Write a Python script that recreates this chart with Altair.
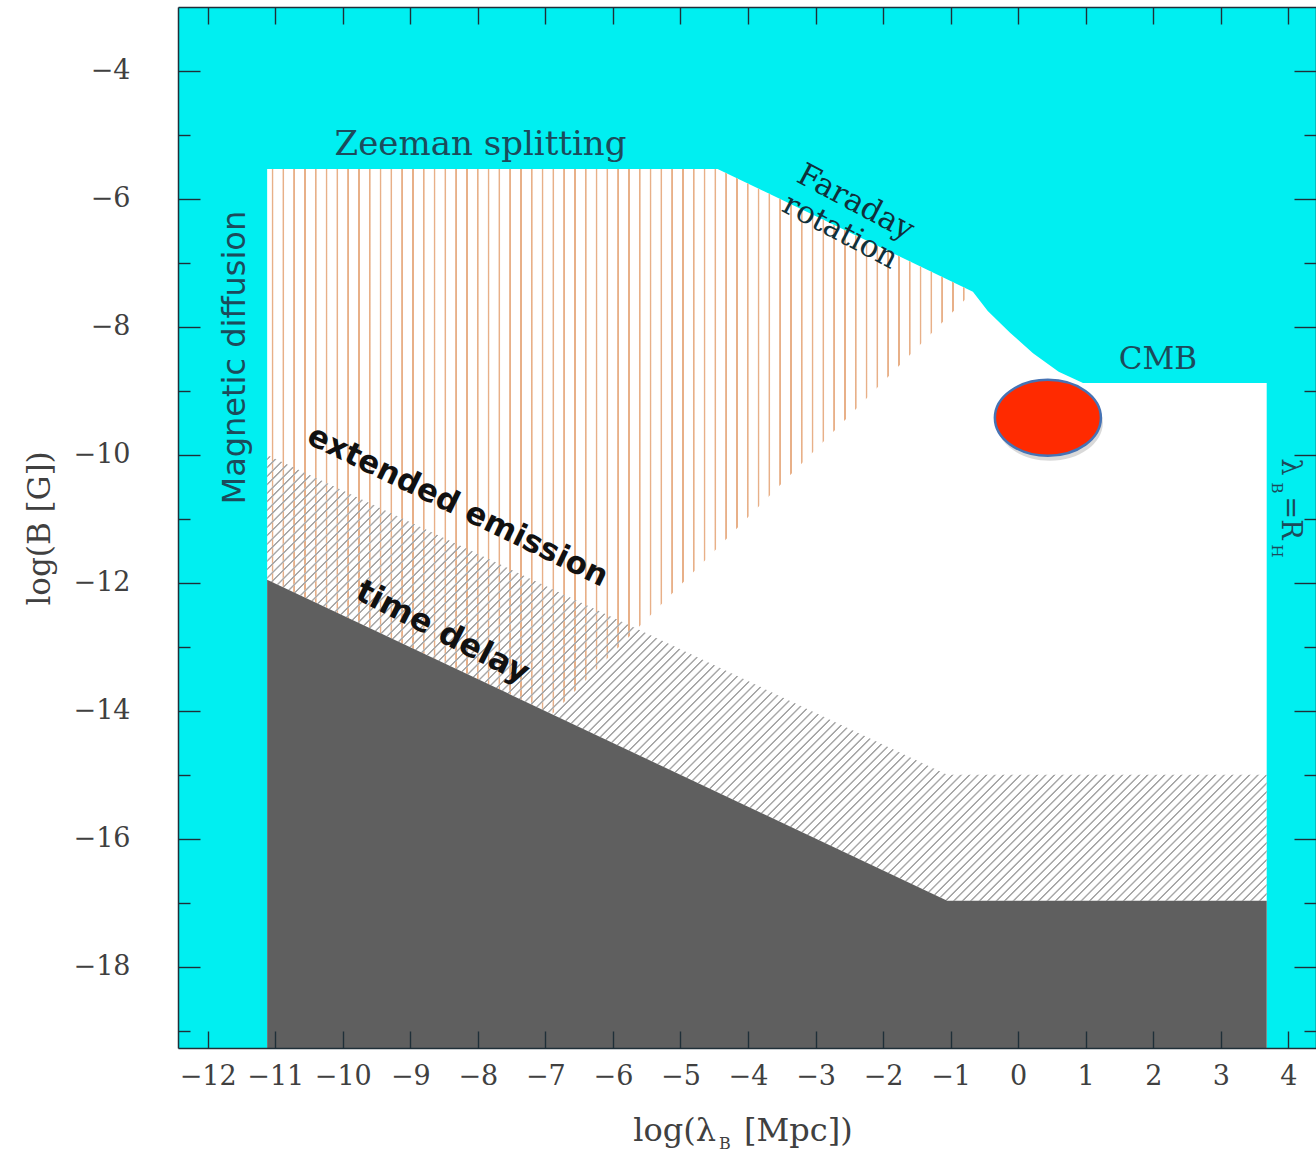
import math
import altair as alt
import pandas as pd

# ---------------- values ----------------
# upper bound of the allowed region (Zeeman splitting / Faraday rotation / CMB)
upper_x = [-11.12, -4.45, -0.67, -0.45, -0.12, 0.22, 0.60, 0.96, 3.68]
upper_y = [-5.53, -5.53, -7.45, -7.75, -8.09, -8.41, -8.70, -8.875, -8.875]
# time-delay lower bound (dark excluded region)
delay_x = [-11.12, -1.05, 3.68]
delay_y = [-11.95, -16.97, -16.97]
# extended-emission band (grey hatching)
ext_x = [-11.12, -1.05, 3.68]
ext_top = [-10.00, -15.00, -15.00]
ext_bot = [-11.95, -16.97, -16.97]
# vertically hatched (orange) region
far_x = [-11.12, -6.90, -4.45, -0.67]
far_top = [-5.53, -5.53, -5.53, -7.45]
far_bot = [-11.95, -14.05, -11.45, -7.45]
# red marker
marker_x = [0.44]
marker_y = [-9.42]
# axes
x_tick_values = list(range(-12, 5))
y_major_values = list(range(-18, -3, 2))
y_minor_values = list(range(-19, -3, 2))
X_DOMAIN = [-12.44, 4.41]
Y_DOMAIN = [-19.27, -3.0]
# texts
label_zeeman = "Zeeman splitting"
label_faraday = ["Faraday", "rotation"]
label_cmb = "CMB"
label_diffusion = "Magnetic diffusion"
label_extended = "extended emission"
label_delay = "time delay"
x_title_parts = ["log(λ", "B", "[Mpc])"]
y_title = "log(B [G])"
rh_parts = ["λ", "B", "=R", "H"]

# ---------------- layout / style ----------------
W, H = 1138, 1041
PAD = {"left": 178, "top": 7, "right": 0, "bottom": 109}
PXX = W / (X_DOMAIN[1] - X_DOMAIN[0])
PXY = H / (Y_DOMAIN[1] - Y_DOMAIN[0])

CYAN = "#00eff1"
DARK = "#5f5f5f"
FRAME = "#1f2f38"
LBL = "#404040"
TEAL = "#1c4b5b"
ORANGE = "#e8b088"
GREY = "#a8a8a8"
CLEAR = "rgba(255,255,255,0)"
SERIF = "DejaVu Serif"
SANS = "DejaVu Sans"


def stripe_stops(color, length, period, width, soft=0.7):
    stops = [{"offset": 0.0, "color": CLEAR}]
    c = period / 2.0
    while c + width / 2 + soft < length:
        pts = [
            ((c - width / 2 - soft) / length, CLEAR),
            ((c - width / 2) / length, color),
            ((c + width / 2) / length, color),
            ((c + width / 2 + soft) / length, CLEAR),
        ]
        for off, col in pts:
            stops.append({"offset": round(off, 6), "color": col})
        c += period
    stops.append({"offset": 1.0, "color": CLEAR})
    return stops


# orange vertical hatching
w_far = (max(far_x) - min(far_x)) * PXX
orange_fill = {"gradient": "linear", "x1": 0, "y1": 0, "x2": 1, "y2": 0,
               "stops": stripe_stops(ORANGE, w_far, 10.8, 1.2)}

# grey diagonal hatching ("/" at 45 deg in screen space)
w_g = (max(ext_x) - min(ext_x)) * PXX
h_g = (max(ext_top) - min(ext_bot)) * PXY
th = math.radians(45)
L = w_g * math.sin(th) + h_g * math.cos(th)
k = L / ((w_g * math.sin(th)) ** 2 + (h_g * math.cos(th)) ** 2)
grey_fill = {"gradient": "linear", "x1": 0, "y1": 0,
             "x2": round(k * w_g * math.sin(th), 6), "y2": round(k * h_g * math.cos(th), 6),
             "stops": stripe_stops(GREY, L, 6.0, 1.0)}

xs = alt.Scale(domain=X_DOMAIN, nice=False, zero=False)
ys = alt.Scale(domain=Y_DOMAIN, nice=False, zero=False)


def tick_axis(orient, values, size, domain=False):
    offs = -H if orient in ("top", "bottom") else -W
    return alt.Axis(orient=orient, offset=offs, values=values, tickSize=size,
                    labels=False, domain=domain, domainColor=FRAME, domainWidth=1.5,
                    tickColor=FRAME, tickWidth=1.4, grid=False, title=None, zindex=3)


x_label_axis = alt.Axis(orient="bottom", values=x_tick_values, format="d", ticks=False,
                        domain=True, domainColor=FRAME, domainWidth=1.5,
                        labelFont=SERIF, labelFontSize=27, labelColor=LBL, labelPadding=15,
                        labelFlush=False, labelOverlap=False, grid=False, title=None, zindex=3)
y_label_axis = alt.Axis(orient="left", values=y_major_values, format="d", ticks=False,
                        domain=True, domainColor=FRAME, domainWidth=1.5,
                        labelFont=SERIF, labelFontSize=27, labelColor=LBL, labelPadding=48,
                        labelOverlap=False, grid=False, title=y_title, titleFont=SERIF,
                        titleFontSize=31, titleFontWeight="normal", titleColor=LBL,
                        titleAngle=270, titleX=-138, titleY=521, titleAlign="center",
                        titleBaseline="middle", zindex=3)

upper_df = pd.DataFrame({"x": upper_x, "y": upper_y})
delay_df = pd.DataFrame({"x": delay_x, "y": delay_y})
ext_df = pd.DataFrame({"x": ext_x, "top": ext_top, "bot": ext_bot})
far_df = pd.DataFrame({"x": far_x, "top": far_top, "bot": far_bot})
marker_df = pd.DataFrame({"x": marker_x, "y": marker_y})

white = alt.Chart(upper_df).mark_area(color="white", orient="vertical", opacity=1).encode(
    x=alt.X("x:Q", scale=xs, axis=x_label_axis),
    y=alt.Y("y:Q", scale=ys, axis=y_label_axis),
    y2=alt.datum(Y_DOMAIN[0]),
)
orange = alt.Chart(far_df).mark_area(color=orange_fill, orient="vertical", opacity=1).encode(
    x=alt.X("x:Q", scale=xs, axis=tick_axis("top", x_tick_values, 17)),
    y=alt.Y("top:Q", scale=ys, axis=tick_axis("right", y_major_values, 22)),
    y2="bot:Q",
)
grey = alt.Chart(ext_df).mark_area(color=grey_fill, orient="vertical", opacity=1).encode(
    x=alt.X("x:Q", scale=xs, axis=tick_axis("bottom", x_tick_values, 17, domain=True)),
    y=alt.Y("top:Q", scale=ys, axis=tick_axis("right", y_minor_values, 12)),
    y2="bot:Q",
)
dark = alt.Chart(delay_df).mark_area(color=DARK, orient="vertical", opacity=1).encode(
    x=alt.X("x:Q", scale=xs, axis=None),
    y=alt.Y("y:Q", scale=ys, axis=tick_axis("left", y_major_values, 22, domain=True)),
    y2=alt.datum(Y_DOMAIN[0]),
)
ELLIPSE = "M -1 0 A 1 0.717 0 1 1 1 0 A 1 0.717 0 1 1 -1 0 Z"
shadow = alt.Chart(marker_df).mark_point(shape=ELLIPSE, size=106 ** 2, filled=True,
                                         color="#000000", opacity=0.15, xOffset=2,
                                         yOffset=5, strokeWidth=0).encode(
    x=alt.X("x:Q", scale=xs, axis=None),
    y=alt.Y("y:Q", scale=ys, axis=tick_axis("left", y_minor_values, 12)),
)
ellipse = alt.Chart(marker_df).mark_point(shape=ELLIPSE, size=106 ** 2, filled=True,
                                          fill="#ff2a00", stroke="#4673b4", strokeWidth=2.5,
                                          opacity=1).encode(
    x=alt.X("x:Q", scale=xs, axis=None),
    y=alt.Y("y:Q", scale=ys, axis=None),
)


def text_at(txt, x, y, **mk):
    return alt.Chart(alt.Data(values=[{"t": txt}])).mark_text(**mk).encode(
        x=alt.XDatum(x, type="quantitative", scale=xs, axis=None),
        y=alt.YDatum(y, type="quantitative", scale=ys, axis=None),
        text="t:N",
    )


def text_px(txt, px, py, **mk):
    return alt.Chart(alt.Data(values=[{"t": txt}])).mark_text(**mk).encode(
        x=alt.value(px), y=alt.value(py), text="t:N")


texts = [
    text_at(label_zeeman, -7.96, -5.16, font=SERIF, fontSize=34, color=TEAL,
            align="center", baseline="middle"),
    text_at(label_faraday, -2.41, -6.06, font=SERIF, fontSize=31, color="#10303a",
            align="center", baseline="middle", angle=28, lineHeight=33),
    text_at(label_cmb, 2.07, -8.52, font=SERIF, fontSize=31, color=TEAL,
            align="center", baseline="middle"),
    text_at(label_diffusion, -11.6, -8.48, font=SANS, fontSize=32, color=TEAL,
            align="center", baseline="middle", angle=270),
    text_at(label_extended, -8.30, -10.81, font=SANS, fontSize=31, fontWeight="bold",
            color="#111111", align="center", baseline="middle", angle=26),
    text_at(label_delay, -8.52, -12.77, font=SANS, fontSize=32, fontWeight="bold",
            color="#111111", align="center", baseline="middle", angle=27),
    # x-axis title with subscript
    text_px(x_title_parts[0], 538, 1134, font=SERIF, fontSize=32, color=LBL,
            align="right", baseline="alphabetic"),
    text_px(x_title_parts[1], 541, 1142, font=SERIF, fontSize=16, color=LBL,
            align="left", baseline="alphabetic"),
    text_px(x_title_parts[2], 566, 1134, font=SERIF, fontSize=32, color=LBL,
            align="left", baseline="alphabetic"),
    # lambda_B = R_H, rotated
    text_px(rh_parts[0], 1112, 460, font=SERIF, fontSize=27, color=TEAL,
            align="center", baseline="middle", angle=90),
    text_px(rh_parts[1], 1099, 481, font=SERIF, fontSize=15, color=TEAL,
            align="center", baseline="middle", angle=90),
    text_px(rh_parts[2], 1112, 511, font=SERIF, fontSize=27, color=TEAL,
            align="center", baseline="middle", angle=90),
    text_px(rh_parts[3], 1099, 544, font=SERIF, fontSize=15, color=TEAL,
            align="center", baseline="middle", angle=90),
]

chart = alt.layer(white, orange, grey, dark, shadow, ellipse, *texts).resolve_axis(
    x="independent", y="independent"
).properties(
    width=W, height=H, padding=PAD, autosize=alt.AutoSizeParams(type="none"),
    background="white",
).configure_view(fill=CYAN, stroke="transparent")

chart.save("out.html", embed_options={"renderer": "svg", "actions": False})
